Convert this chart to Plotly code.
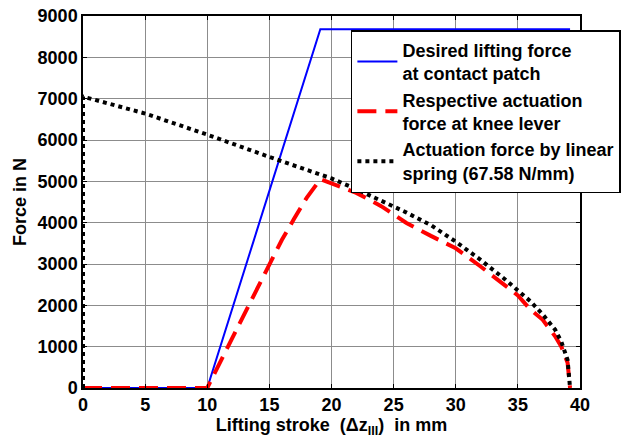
import plotly.graph_objects as go

# Desired lifting force at contact patch
blue_x = [0, 10, 19.1, 39.2]
blue_y = [0, 0, 8680, 8680]

# Respective actuation force at knee lever
red_x = [0, 10, 12, 15, 16, 17, 18, 19.1, 20, 22, 24, 26, 28, 30, 32, 34, 35, 36, 37, 38, 38.5, 39, 39.2]
red_y = [0, 0, 1200, 3000, 3580, 4100, 4600, 5050, 4950, 4720, 4400, 4000, 3680, 3380, 2940, 2460, 2240, 1900, 1650, 1250, 1000, 610, 0]

# Actuation force by linear spring
blk_x = [0, 0, 5, 10, 15, 19, 20, 22, 24, 26, 28, 30, 32, 34, 36, 37, 38, 38.5, 39, 39.2]
blk_y = [0, 7050, 6640, 6130, 5590, 5180, 5070, 4810, 4540, 4250, 3940, 3540, 3100, 2620, 2100, 1780, 1410, 1120, 680, 0]

names = [
    "Desired lifting force<br>at contact patch",
    "Respective actuation<br>force at knee lever",
    "Actuation force by linear<br>spring (67.58 N/mm)",
]

FONT = "Liberation Sans, Arial, sans-serif"
FS = 18

fig = go.Figure()
fig.add_trace(go.Scatter(x=blue_x, y=blue_y, mode="lines", name=names[0],
                         line=dict(color="#0000ff", width=2)))
fig.add_trace(go.Scatter(x=red_x, y=red_y, mode="lines", name=names[1],
                         line=dict(color="#ff0000", width=4, dash="19px,9px")))
fig.add_trace(go.Scatter(x=blk_x, y=blk_y, mode="lines", name=names[2],
                         line=dict(color="#000000", width=4, dash="dot")))

axis_common = dict(
    showgrid=True, gridcolor="#8c8c8c", gridwidth=1,
    showline=True, linecolor="black", linewidth=1.5, mirror="ticks",
    ticks="inside", ticklen=4, tickcolor="black",
    zeroline=False, automargin=False,
    tickfont=dict(family=FONT, size=FS, color="black", weight="bold"),
)

fig.update_xaxes(range=[0, 40], dtick=5, tick0=0,
                 title=dict(text="Lifting stroke\u00a0\u00a0(\u0394z<sub>III</sub>)\u00a0\u00a0in mm",
                            font=dict(family=FONT, size=FS, color="black", weight="bold"),
                            standoff=0),
                 **axis_common)
fig.update_yaxes(range=[0, 9000], dtick=1000, tick0=0,
                 title=dict(text="Force in N",
                            font=dict(family=FONT, size=FS, color="black", weight="bold"),
                            standoff=6),
                 **axis_common)

fig.update_layout(
    width=633, height=441,
    margin=dict(l=83, r=47, t=16, b=53),
    paper_bgcolor="white", plot_bgcolor="white",
    font=dict(family=FONT, color="black"),
    legend=dict(x=0.539, y=0.962, xanchor="left", yanchor="top",
                bgcolor="white", bordercolor="black", borderwidth=1.5,
                font=dict(family=FONT, size=FS, color="black", weight="bold"),
                tracegroupgap=0, itemwidth=40),
    showlegend=True,
)

# remove the browser's default 8px body margin so the figure fills the window
fig.write_html("out.html",
               config={"displayModeBar": False},
               post_script="document.body.style.margin='0';document.body.style.overflow='hidden';")
